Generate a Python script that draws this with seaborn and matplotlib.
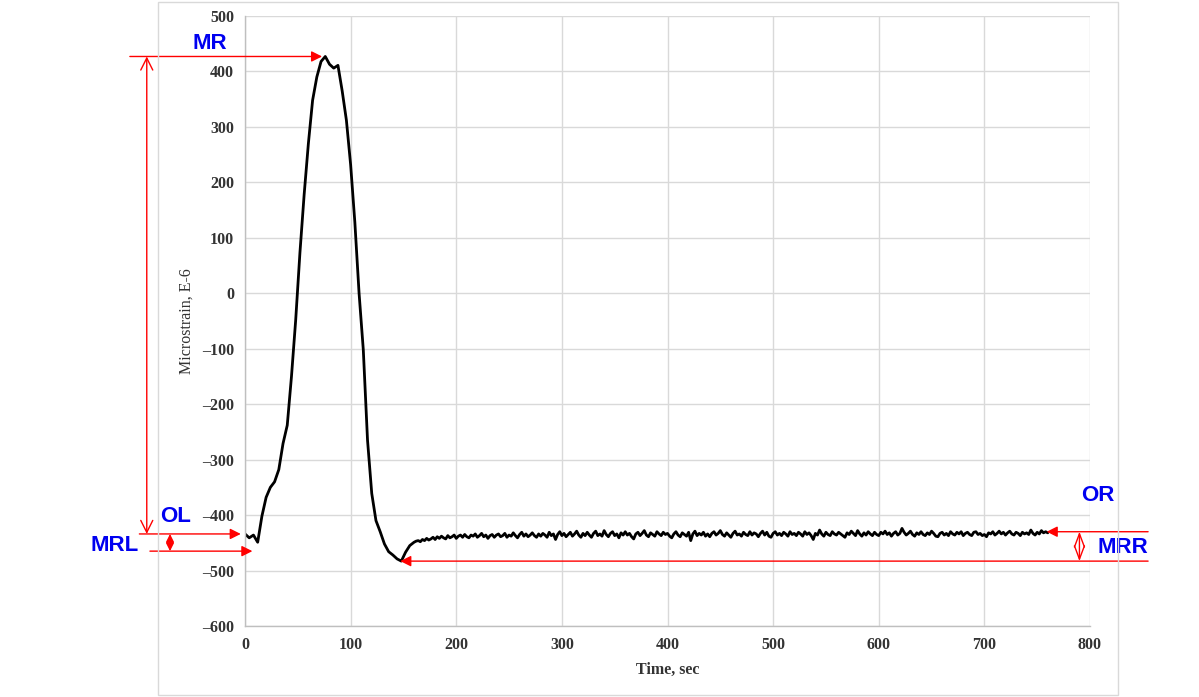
import numpy as np
import pandas as pd
import matplotlib
matplotlib.use("Agg")
import matplotlib.pyplot as plt
from matplotlib.patches import Rectangle
import seaborn as sns

time_peak = np.arange(0, 160, 4)
strain_peak = [
    -434, -441, -436, -449, -402, -368, -350, -340, -318, -271,
    -238, -150, -48, 73, 178, 270, 348, 390, 418, 427,
    413, 406, 411, 365, 312, 232, 128, 0, -102, -265,
    -361, -410, -430, -452, -466, -472, -479, -483, -467, -455,
]
# recovery / baseline: sampled every 2 s
time_base = np.arange(160, 761, 2)
strain_base = [
    -449, -447, -446, -448, -444, -446, -442, -445, -443, -440, -444, -439, -442, -438, -441, -443, -437, -441, -439, -436,
    -442, -438, -436, -440, -435, -439, -441, -436, -438, -434, -440, -437, -433, -439, -436, -442, -437, -435, -440, -436,
    -434, -439, -437, -433, -440, -436, -438, -432, -437, -441, -435, -431, -438, -434, -439, -436, -432, -437, -440, -434,
    -438, -433, -436, -440, -431, -437, -434, -444, -435, -430, -437, -433, -439, -435, -431, -438, -434, -429, -436, -440,
    -433, -437, -431, -436, -440, -433, -429, -437, -434, -438, -428, -435, -439, -433, -430, -437, -434, -441, -432, -436,
    -430, -436, -433, -439, -443, -434, -431, -437, -433, -428, -436, -439, -432, -435, -438, -430, -434, -437, -431, -435,
    -433, -438, -441, -434, -430, -436, -439, -432, -435, -438, -431, -446, -434, -429, -437, -433, -436, -431, -438, -434,
    -439, -433, -430, -436, -433, -428, -435, -438, -432, -436, -440, -433, -429, -436, -434, -438, -431, -435, -437, -430,
    -436, -432, -434, -439, -433, -429, -436, -431, -438, -440, -433, -430, -436, -433, -437, -431, -434, -438, -430, -435,
    -433, -437, -431, -434, -438, -430, -435, -432, -437, -444, -433, -436, -427, -434, -438, -431, -435, -437, -430, -434,
    -436, -431, -434, -437, -440, -432, -435, -429, -433, -437, -428, -434, -438, -432, -436, -430, -434, -437, -431, -435,
    -437, -431, -434, -429, -435, -432, -438, -433, -430, -436, -433, -424, -431, -436, -433, -429, -435, -438, -432, -435,
    -430, -435, -437, -432, -435, -429, -433, -438, -439, -433, -431, -436, -433, -437, -430, -434, -436, -431, -434, -430,
    -437, -433, -431, -435, -437, -431, -430, -435, -433, -437, -435, -439, -432, -434, -430, -436, -433, -429, -434, -431,
    -436, -432, -429, -434, -436, -431, -433, -437, -431, -434, -432, -435, -427, -433, -436, -431, -434, -428, -432, -430,
    -432,
]

time_sec = np.concatenate([time_peak, time_base])
strain = strain_peak + strain_base

# reference levels marked by the red arrows
mr_level = max(strain)
ol_level = -434
mrl_level = -465
min_level = min(strain)
or_level = -430

df = pd.DataFrame({"Time, sec": time_sec, "Microstrain, E-6": strain})

sns.set_style("whitegrid")
plt.rcParams["font.family"] = ["Liberation Serif", "DejaVu Serif"]

fig = plt.figure(figsize=(11.99, 6.97), dpi=100)
ax = fig.add_axes([245 / 1199, 71 / 697, 845 / 1199, 610 / 697])

sns.lineplot(data=df, x="Time, sec", y="Microstrain, E-6", ax=ax,
             color="black", linewidth=2)

ax.set_xlim(0, 800)
ax.set_ylim(-600, 500)
ax.set_xticks(range(0, 801, 100))
ax.set_yticks(range(-600, 501, 100))
ax.grid(True, color="#d9d9d9", linewidth=1)
for s in ["top", "right"]:
    ax.spines[s].set_visible(False)
for s in ["left", "bottom"]:
    ax.spines[s].set_color("#bfbfbf")
    ax.spines[s].set_linewidth(1)
ax.tick_params(length=0, labelsize=11.5, colors="#333333", pad=8)
ax.set_xticklabels([str(v) for v in range(0, 801, 100)], fontweight="bold")
ax.set_yticklabels([str(v).replace("-", "\u2013") for v in range(-600, 501, 100)],
                   fontweight="bold")
ax.set_xlabel("Time, sec", fontsize=11.5, fontweight="bold", color="#333333", labelpad=6)
ax.set_ylabel("Microstrain, E-6", fontsize=11.5, color="#333333", labelpad=5)

red = "#ff0000"
blue = "#0000f0"


def arrow(x0, y0, x1, y1, style="-|>", ms=16):
    ax.annotate("", xy=(x1, y1), xytext=(x0, y0), annotation_clip=False,
                arrowprops=dict(arrowstyle=style, color=red, lw=1,
                                shrinkA=0, shrinkB=0, mutation_scale=ms))


# MR
arrow(-109, mr_level, 73, mr_level)
arrow(-93, ol_level, -93, mr_level, style="<->,head_length=0.36,head_width=0.18", ms=24)
# OL / MRL
arrow(-100, ol_level, -4, ol_level)
arrow(-90, mrl_level, 7, mrl_level)
arrow(-71, ol_level, -71, mrl_level, style="<|-|>", ms=12)
# right side
arrow(855, min_level, 147, min_level)
arrow(855, or_level, 759, or_level)
arrow(790, or_level, 790, min_level, style="<->,head_length=0.4,head_width=0.15", ms=24)

lab_kw = dict(color=blue, fontsize=16, fontweight="bold", family=["Liberation Sans", "DejaVu Sans"],
              ha="center", va="center", clip_on=False)
ax.text(-33, 450, "MR", **lab_kw)
ax.text(-66, -403, "OL", **lab_kw)
ax.text(-123, -454, "MRL", **lab_kw)
ax.text(807, -364, "OR", **lab_kw)
ax.text(831, -459, "MRR", **lab_kw)

fig.add_artist(Rectangle((158 / 1199, 2 / 697), 960 / 1199, 693 / 697,
                         transform=fig.transFigure, fill=False,
                         edgecolor="#d9d9d9", linewidth=1))

fig.savefig("out.png", dpi=100)
